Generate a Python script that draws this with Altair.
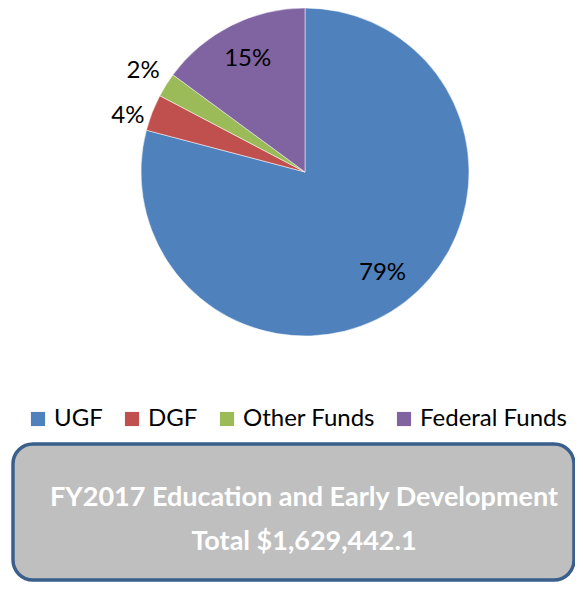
import altair as alt
import pandas as pd

categories = ["UGF", "DGF", "Other Funds", "Federal Funds"]
shares = [79.1, 3.6, 2.4, 14.9]
pct_labels = ["79%", "4%", "2%", "15%"]
colors = ["#4F81BD", "#C0504D", "#9BBB59", "#8064A2"]
box_lines = ["FY2017 Education and Early Development", "Total $1,629,442.1"]

# label placement groups: (categories, radial distance, vertical nudge)
label_groups = [
    (["UGF", "Federal Funds"], 127, 0),
    (["Other Funds"], 191, 0),
    (["DGF"], 190, 13),
]

FONT = "Lato"
W, H = 567, 574
CX, CY, R = 297, 164, 164

df = pd.DataFrame({"category": categories, "share": shares,
                   "label": pct_labels, "idx": list(range(len(categories)))})

color = alt.Color(
    "category:N",
    scale=alt.Scale(domain=categories, range=colors),
    sort=categories,
    legend=alt.Legend(
        title=None, orient="none", legendX=18, legendY=399,
        direction="horizontal", symbolType="square", symbolSize=200,
        symbolStrokeWidth=0, symbolOpacity=1, labelFont=FONT,
        labelFontSize=24, labelColor="#000000", columnPadding=17,
        labelOffset=4, padding=0, labelLimit=400,
    ),
)

base = alt.Chart(df).encode(
    theta=alt.Theta("share:Q", stack=True),
    order=alt.Order("idx:Q"),
    detail="category:N",
)

arcs = base.mark_arc(radius=R, stroke="#ffffff", strokeWidth=0.5).encode(
    color=color, x=alt.value(CX), y=alt.value(CY)
)

label_layers = []
for cats, rad, dy in label_groups:
    expr = "indexof(" + str(cats) + ", datum.category) >= 0 ? datum.label : ''"
    label_layers.append(
        base.mark_text(font=FONT, fontSize=24, color="#000000", align="center",
                       baseline="middle", radius=rad, dy=dy)
        .encode(text="t:N", x=alt.value(CX), y=alt.value(CY))
        .transform_calculate(t=expr)
    )

box_df = pd.DataFrame({"t": ["\n".join(box_lines)]})
box = alt.Chart(box_df).mark_rect(
    cornerRadius=20, fill="#BFBFBF", stroke="#3A5F8B", strokeWidth=3.5
).encode(x=alt.value(5), x2=alt.value(566), y=alt.value(436), y2=alt.value(572))

box_text = alt.Chart(box_df).mark_text(
    font=FONT, fontSize=27, fontWeight="bold", color="#ffffff",
    lineBreak="\n", lineHeight=44, align="center", baseline="middle"
).encode(text="t:N", x=alt.value(296), y=alt.value(490))

chart = alt.layer(arcs, *label_layers, box, box_text).properties(
    width=W, height=H, autosize=alt.AutoSizeParams(type="none"), padding=0,
    background="#ffffff"
).configure_view(stroke=None)

chart.save("out.html", embed_options={"renderer": "svg", "actions": False})
